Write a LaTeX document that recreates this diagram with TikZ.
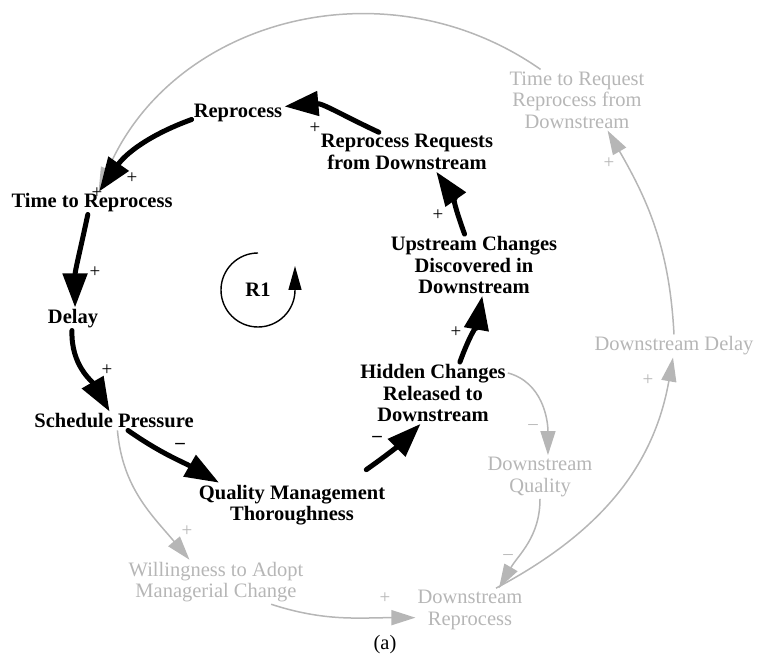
\documentclass[tikz,border=0pt]{standalone}
\usepackage{fontspec}
\setmainfont{Liberation Serif}
\usetikzlibrary{arrows.meta}
\definecolor{fadegray}{RGB}{182,182,182}
\begin{document}
\begin{tikzpicture}[x=1pt,y=1pt,
    var/.style={font=\fontsize{20.5}{21.5}\selectfont\bfseries, align=center, inner sep=2pt},
    ghost/.style={font=\fontsize{20.5}{21.5}\selectfont, align=center, inner sep=2pt, text=fadegray},
    link/.style={line width=5pt, line cap=round, -{Triangle[length=34pt,width=24pt]}},
    faint/.style={line width=1.5pt, draw=fadegray, -{Triangle[length=24pt,width=15pt]}},
    pol/.style={font=\fontsize{19}{20}\selectfont, inner sep=0pt},
    polg/.style={pol, text=fadegray}]
    \useasboundingbox (0,0) rectangle (757,660);
    \node[var] (rep) at (238,547) {Reprocess};
    \node[var] (ttr) at (92,457) {Time to Reprocess};
    \node[var] (del) at (73,341) {Delay};
    \node[var] (sp) at (114,239) {Schedule Pressure};
    \node[var] (qmt) at (292,155) {Quality Management\\Thoroughness};
    \node[var] (hid) at (433,267) {Hidden Changes\\Released to\\Downstream};
    \node[var] (up) at (474,395) {Upstream Changes\\Discovered in\\Downstream};
    \node[var] (rrq) at (407,508) {Reprocess Requests\\from Downstream};
    \node[var] (r1) at (258,370) {R1};
    \node[ghost] (trq) at (577,560) {Time to Request\\Reprocess from\\Downstream};
    \node[ghost] (dd) at (674,314) {Downstream Delay};
    \node[ghost] (dq) at (540,183) {Downstream\\Quality};
    \node[ghost] (dr) at (470,50) {Downstream\\Reprocess};
    \node[ghost] (will) at (216,78) {Willingness to Adopt\\Managerial Change};
    \node[font=\fontsize{20.5}{21.5}\selectfont] (cap) at (385,15) {(a)};
    \draw[faint] (trq.140) to[out=145,in=67,looseness=1.05] (ttr.60);
    \draw[faint] (dd.north) to[out=93,in=-60] (trq.315);
    \draw[faint] (dr.40) to[out=28,in=-100] (dd.265);
    \draw[faint] (dq.south) to[out=270,in=60] (dr.37);
    \draw[faint] (hid.15) to[out=-15,in=90] (dq.70);
    \draw[faint] (sp.290) to[out=-85,in=130] (will.140);
    \draw[faint] (will.338) to[out=-18,in=180] (dr.188);
    \draw[link] (rep.188) to[out=200,in=55] (ttr.58);
    \draw[link] (ttr.250) to[out=258,in=90] (del.80);
    \draw[link] (del.265) to[out=268,in=120] (sp.115);
    \draw[link] (sp.326) to[out=-35,in=150] (qmt.163);
    \draw[link] ([xshift=-21pt,yshift=13pt]qmt.north east) to[out=35,in=225] (hid.248);
    \draw[link] (hid.49) to[out=70,in=260] (up.285);
    \draw[link] (up.107) to[out=110,in=-55] (rrq.326);
    \draw[link] (rrq.145) to[out=155,in=5] (rep.8);
    \draw[line width=1.4pt, -{Triangle[length=24pt,width=13pt]}] ([shift={(90:37pt)}]r1.center) arc[start angle=90, end angle=360, radius=37pt] -- ++(0,24pt);
    \node[pol] (s1) at (132,482) {+};
    \node[pol] (s2) at (95,388) {+};
    \node[pol] (s3) at (107,290) {+};
    \node[pol, font=\fontsize{19}{20}\selectfont\bfseries] (s4) at (180,214) {–};
    \node[pol, font=\fontsize{19}{20}\selectfont\bfseries] (s5) at (377,221) {–};
    \node[pol] (s6) at (456,328) {+};
    \node[pol] (s7) at (438,445) {+};
    \node[pol] (s8) at (315,532) {+};
    \node[pol] (s9) at (97,467) {+};
    \node[polg] (g1) at (609,497) {+};
    \node[polg] (g2) at (648,280) {+};
    \node[polg] (g3) at (508,103) {–};
    \node[polg] (g4) at (533,233) {–};
    \node[polg] (g5) at (187,129) {+};
    \node[polg] (g6) at (385,62) {+};
\end{tikzpicture}
\end{document}
